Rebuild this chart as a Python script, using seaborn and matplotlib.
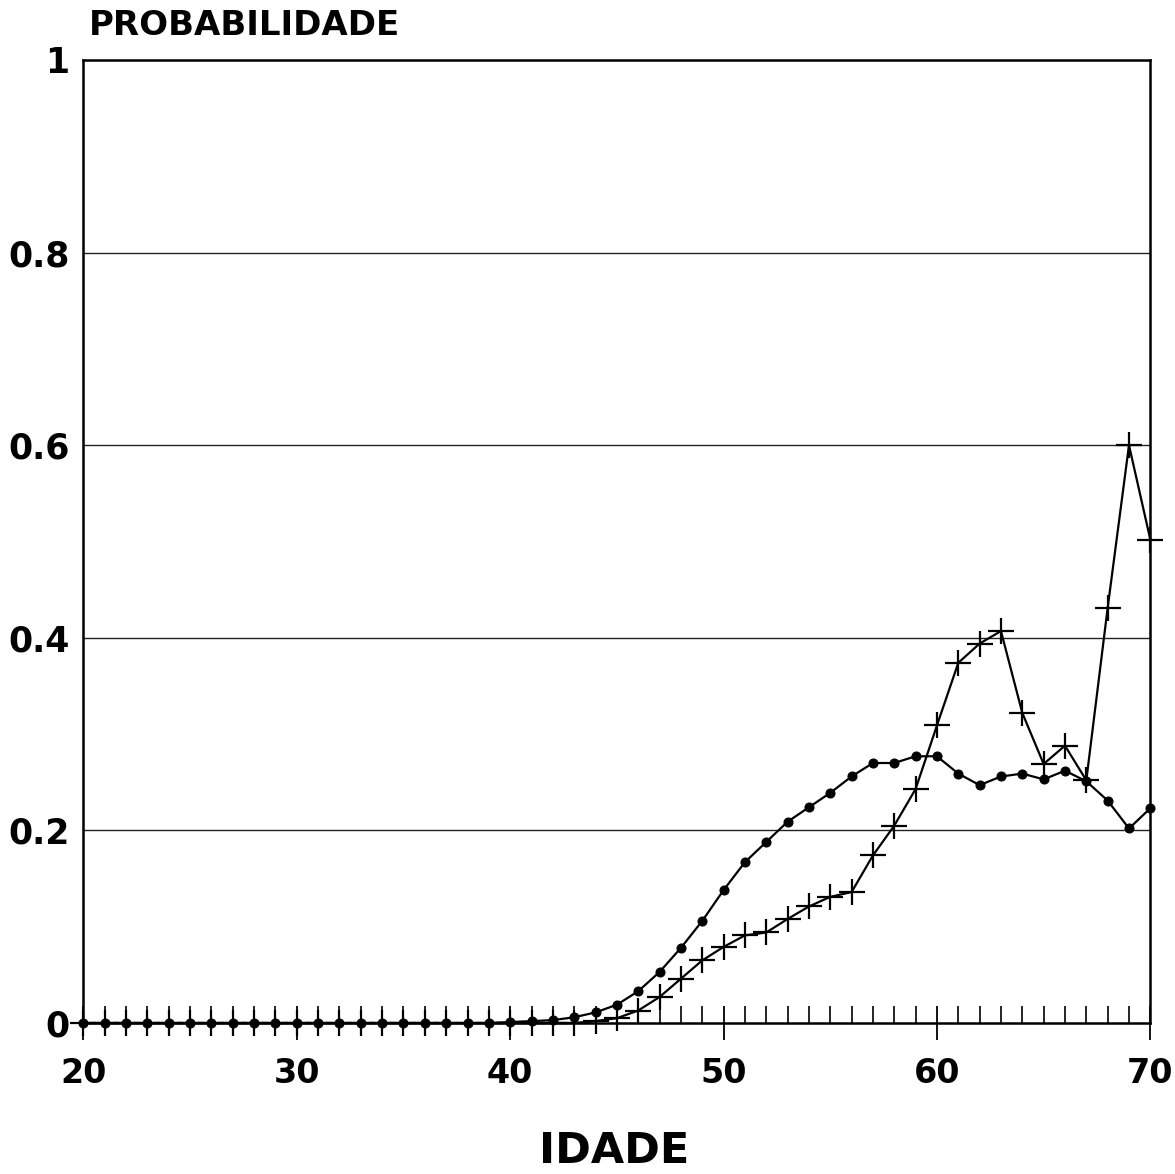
import numpy as np
import pandas as pd
import matplotlib
matplotlib.use("Agg")
import matplotlib.pyplot as plt
import seaborn as sns
from matplotlib.ticker import MultipleLocator

ages = list(range(20, 71))
serie_pontos = [0.0] * 20 + [
    0.001, 0.002, 0.003, 0.006, 0.011, 0.019, 0.033, 0.053, 0.078, 0.106,
    0.138, 0.167, 0.188, 0.209, 0.224, 0.239, 0.256, 0.270, 0.270, 0.277,
    0.277, 0.259, 0.247, 0.256, 0.259, 0.253, 0.262, 0.251, 0.231, 0.202,
    0.223]
serie_cruz = [0.0] * 24 + [
    0.002, 0.005, 0.013, 0.027, 0.046, 0.065, 0.079, 0.091, 0.094, 0.108,
    0.121, 0.131, 0.136, 0.174, 0.205, 0.243, 0.309, 0.374, 0.394, 0.407,
    0.322, 0.269, 0.288, 0.252, 0.431, 0.600, 0.502]
y_ticks = [0, 0.2, 0.4, 0.6, 0.8, 1]
y_labels = ["0", "0.2", "0.4", "0.6", "0.8", "1"]
x_ticks = [20, 30, 40, 50, 60, 70]

df = pd.DataFrame({"idade": ages, "pontos": serie_pontos, "cruz": serie_cruz})

sns.set_style("white")
plt.rcParams["font.family"] = ["DejaVu Sans"]
plt.rcParams["text.color"] = "black"
plt.rcParams["xtick.color"] = "black"
plt.rcParams["ytick.color"] = "black"
plt.rcParams["axes.labelcolor"] = "black"

fig = plt.figure(figsize=(11.75, 11.74), dpi=100)
ax = fig.add_axes([0.071, 0.1286, 0.908, 0.8203])

for yv in [0.2, 0.4, 0.6, 0.8]:
    ax.axhline(yv, color="#222222", lw=1.0, zorder=1)

sns.lineplot(data=df, x="idade", y="pontos", ax=ax, color="black", lw=1.6,
             marker="o", markersize=6.5, markeredgecolor="black",
             markerfacecolor="black", clip_on=False, zorder=3)
sns.lineplot(data=df, x="idade", y="cruz", ax=ax, color="black", lw=1.6,
             marker="+", markersize=19, markeredgewidth=1.6,
             markeredgecolor="black", clip_on=False, zorder=3)

ax.set_xlim(20, 70)
ax.set_ylim(0, 1)
ax.set_xticks(x_ticks)
ax.set_xticklabels([str(t) for t in x_ticks], fontsize=24, fontweight="bold")
ax.xaxis.set_minor_locator(MultipleLocator(1))
ax.set_yticks(y_ticks)
ax.set_yticklabels(y_labels, fontsize=25, fontweight="bold")
ax.tick_params(axis="x", which="both", bottom=True)
ax.tick_params(axis="x", which="major", direction="inout", length=25,
               width=1.3, pad=12, color="black")
ax.tick_params(axis="x", which="minor", direction="in", length=12,
               width=1.2, color="black")
ax.tick_params(axis="y", which="major", left=True, length=0, pad=10)

for s in ax.spines.values():
    s.set_color("black")
    s.set_linewidth(1.8)

ax.set_xlabel("")
ax.set_ylabel("")
fig.text(0.523, 0.0196, "IDADE", fontsize=31, fontweight="bold",
         ha="center", va="center")
fig.text(0.076, 0.978, "PROBABILIDADE", fontsize=24.5, fontweight="bold",
         ha="left", va="center")

fig.savefig("out.png", dpi=100, facecolor="white")
